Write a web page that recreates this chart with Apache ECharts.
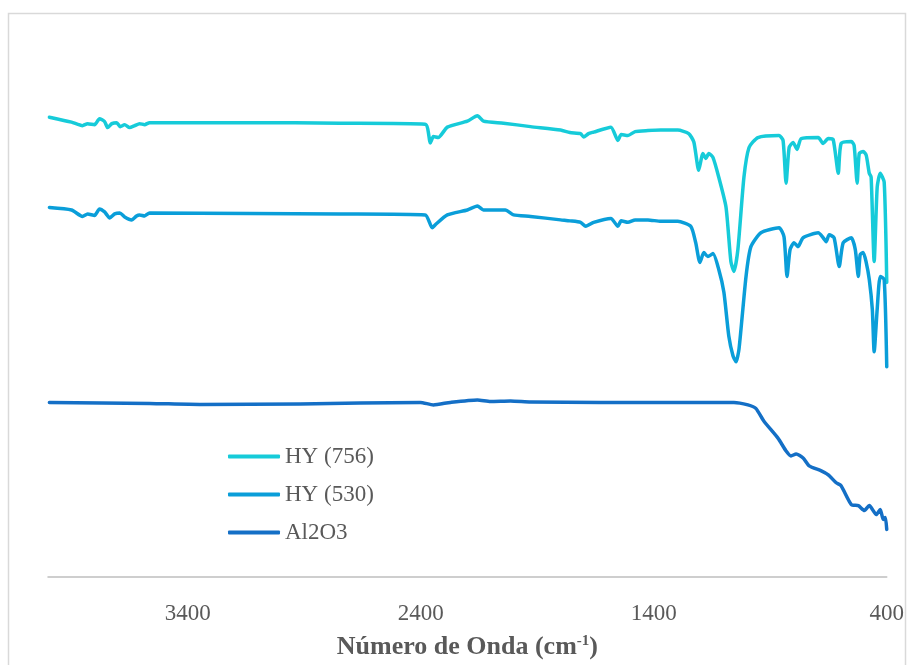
<!DOCTYPE html>
<html>
<head>
<meta charset="utf-8">
<script src="https://cdn.jsdelivr.net/npm/echarts@6/dist/echarts.min.js"></script>
<style>html,body{margin:0;padding:0;background:#fff;}#c{width:907px;height:665px;}</style>
</head>
<body>
<div id="c"></div>
<script>
const seriesNames = ['HY (756)', 'HY (530)', 'Al2O3'];
const xTickLabels = [3400, 2400, 1400, 400];

const hy756Wn = [3994,3899,3852,3830,3800,3779,3757,3744,3726,3705,3690,3671,3650,3628,3607,3585,3564,3133,2746,2381,2359,2346,2325,2286,2200,2157,2131,2045,1929,1800,1760,1714,1701,1680,1658,1584,1554,1540,1511,1480,1425,1370,1297,1250,1228,1207,1189,1176,1164,1146,1121,1090,1069,1056,1039,1013,991,953,862,845,832,819,802,785,767,694,673,651,630,608,596,552,540,527,518,501,488,475,467,454,441,428,411,400];
const hy756T  = [92.7,91.7,91.0,91.4,91.2,92.4,91.8,90.6,91.4,91.6,90.8,91.2,90.6,91.0,91.4,91.2,91.6,91.6,91.5,91.3,87.5,88.8,88.6,90.7,91.9,93.0,91.9,91.5,90.8,90.1,89.6,89.4,88.7,89.4,89.7,90.7,88.0,89.2,89.0,89.8,90.0,90.1,90.1,89.4,87.7,82.0,85.4,84.4,85.4,84.6,80.6,74.6,63.6,61.6,66.0,80.6,86.6,88.6,89.0,88.0,79.4,86.6,87.6,86.2,88.4,88.6,87.4,88.4,88.2,81.4,87.4,87.8,87.0,79.4,85.4,85.8,85.0,81.4,80.6,63.6,78.6,81.4,79.6,59.4];

const hy530Wn = [3994,3899,3852,3830,3800,3779,3757,3735,3714,3692,3671,3641,3620,3607,3585,3564,3133,2746,2381,2351,2338,2286,2200,2157,2131,2037,2002,1929,1800,1760,1714,1692,1658,1584,1554,1540,1511,1480,1425,1370,1297,1241,1220,1202,1185,1168,1146,1121,1099,1078,1060,1047,1034,1004,983,940,862,841,828,815,798,781,759,694,673,660,647,626,604,587,552,535,522,514,501,488,475,462,454,441,428,411,400];
const hy530T  = [74.5,74.0,72.7,73.2,72.9,74.2,73.6,72.4,73.2,73.4,72.6,72.0,72.8,73.0,72.8,73.4,73.3,73.2,73.0,70.4,71.0,73.0,74.0,74.8,74.0,74.0,73.0,72.7,72.0,71.8,71.5,70.7,71.5,72.3,70.7,71.8,71.5,72.0,72.0,71.7,71.7,70.7,67.4,63.4,65.4,64.6,65.2,62.0,57.4,48.6,44.6,43.4,46.0,60.6,66.6,69.4,70.4,68.6,60.6,66.0,67.4,66.6,68.4,69.4,68.4,67.6,69.0,68.4,62.6,67.4,68.4,66.0,60.6,65.0,65.4,63.4,60.0,54.0,45.4,54.0,60.6,60.0,42.4];

const al2o3Wn = [3994,3564,3348,2918,2402,2346,2273,2157,2101,2015,1929,1628,1056,996,962,927,867,832,811,789,759,733,681,651,617,596,552,522,496,475,445,428,415,406,400];
const al2o3T  = [35.2,35.0,34.8,34.9,35.2,34.7,35.2,35.7,35.4,35.5,35.3,35.2,35.2,34.7,34.0,31.4,28.0,25.4,24.4,24.8,24.0,22.4,21.4,20.6,19.0,18.4,14.6,14.4,13.4,14.4,12.6,13.6,11.6,12.0,9.6];

const colors = ['#16CBD9', '#0A9ED9', '#146FC6'];

function pairs(xs, ys) { return xs.map((x, i) => [x, ys[i]]); }

const chart = echarts.init(document.getElementById('c'), null, {renderer: 'canvas'});
const dataSets = [pairs(hy756Wn, hy756T), pairs(hy530Wn, hy530T), pairs(al2o3Wn, al2o3T)];

chart.setOption({
  animation: false,
  backgroundColor: '#ffffff',
  graphic: [{
    type: 'rect',
    shape: {x: 8.5, y: 13.5, width: 897, height: 700},
    style: {fill: 'none', stroke: '#D9D9D9', lineWidth: 1.5},
    silent: true
  }],
  grid: {left: 48, right: 20, top: 81, bottom: 84},
  legend: {
    orient: 'vertical',
    left: 223,
    top: 440,
    itemWidth: 52,
    itemHeight: 4,
    itemGap: 15,
    icon: 'roundRect',
    textStyle: {fontFamily: 'Liberation Serif', fontSize: 23, color: '#595959'},
    data: seriesNames
  },
  xAxis: {
    type: 'value',
    inverse: true,
    min: 400,
    max: 4000,
    splitLine: {show: false},
    axisTick: {show: false},
    axisLine: {lineStyle: {color: '#BFBFBF', width: 1.5}},
    axisLabel: {
      customValues: xTickLabels,
      formatter: v => String(v),
      margin: 25,
      fontFamily: 'Liberation Serif',
      fontSize: 23,
      color: '#595959'
    },
    name: '{a|Número de Onda (cm}{s|-1}{a|)}',
    nameLocation: 'middle',
    nameGap: 57,
    nameTextStyle: {
      rich: {
        a: {fontFamily: 'Liberation Serif', fontSize: 26, fontWeight: 'bold', color: '#595959'},
        s: {fontFamily: 'Liberation Serif', fontSize: 15, fontWeight: 'bold', color: '#595959', verticalAlign: 'top', padding: [0,0,10,0]}
      }
    }
  },
  yAxis: {type: 'value', min: 0, max: 100, show: false},
  series: seriesNames.map((n, i) => ({
    name: n,
    type: 'line',
    data: dataSets[i],
    showSymbol: false,
    symbol: 'none',
    smooth: 0.2,
    lineStyle: {width: 3.5, color: colors[i], cap: 'round', join: 'round'},
    itemStyle: {color: colors[i]}
  }))
});
</script>
</body>
</html>
